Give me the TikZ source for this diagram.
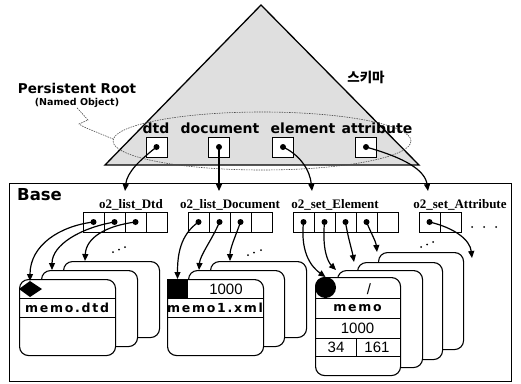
\documentclass[tikz,border=0pt]{standalone}
\usepackage{fontspec}
\setmainfont{Liberation Sans}
\newfontfamily\heavy{DejaVu Sans}
\newfontfamily\spaced[LetterSpace=14]{DejaVu Sans}
\newfontfamily\serifb{Liberation Serif}
\newfontfamily\kor{Noto Sans CJK KR}
\usetikzlibrary{arrows.meta}

\tikzset{
  cell/.style={draw, line width=0.9pt, minimum width=21pt, minimum height=20pt, inner sep=0pt},
  rootbox/.style={draw, line width=1pt, fill=white, minimum width=21pt, minimum height=20pt, inner sep=0pt},
  card/.style={draw, line width=1.1pt, fill=white, rounded corners=9pt, inner sep=0pt, anchor=north west},
  dtdcard/.style={card, minimum width=96pt, minimum height=76pt},
  elcard/.style={card, minimum width=85pt, minimum height=97pt},
  ptr/.style={line width=1.2pt, -{Triangle[length=7pt,width=6pt]}},
  ring/.style={line width=0.6pt, dash pattern=on 1.5pt off 1pt, black!70},
  arrlabel/.style={font=\serifb\bfseries\fontsize{13}{14}\selectfont, inner sep=0pt},
  rootlabel/.style={font=\heavy\bfseries\fontsize{14}{15}\selectfont, inner sep=0pt},
  rec/.style={font=\spaced\bfseries\fontsize{12.5}{13}\selectfont, inner sep=0pt},
  num/.style={font=\fontsize{15}{16}\selectfont, inner sep=0pt},
}

\begin{document}
\begin{tikzpicture}[x=1pt,y=-1pt]
\useasboundingbox (0,0) rectangle (521,383);
% schema triangle
\coordinate (A) at (261,5);
\coordinate (B) at (105,165);
\coordinate (C) at (419,165);
\draw[line width=1.3pt, fill=gray!25] (A) -- (B) -- (C) -- cycle;
\draw[ring] (262,141) ellipse [x radius=149pt, y radius=29pt];
\node[font=\kor\bfseries\fontsize{13.5}{14}\selectfont] (schema) at (366,77) {스키마};
\node[font=\heavy\bfseries\fontsize{13.5}{14}\selectfont, inner sep=0pt] (proot) at (77,88) {Persistent Root};
\node[font=\heavy\bfseries\fontsize{9.5}{10}\selectfont, inner sep=0pt] (nobj) at (77,103) {(Named Object)};
\coordinate (ringl) at (113,139);
\draw[ring] (nobj.south) -- (88,120) -- (79,124) -- (84,127) -- (ringl);

% named roots
\node[rootlabel] (ldtd) at (156,128) {dtd};
\node[rootlabel] (ldoc) at (220,128) {document};
\node[rootlabel] (lelem) at (303,128) {element};
\node[rootlabel] (latt) at (377,128) {attribute};
\node[rootbox] (rdtd) at (156.5,147) {};
\node[rootbox] (rdoc) at (219,147) {};
\node[rootbox] (relem) at (283,147) {};
\node[rootbox] (ratt) at (366,147) {};
\foreach \r in {rdtd,rdoc,relem,ratt}
  \fill (\r.center) circle (3pt);

% base
\node[draw, line width=1.3pt, minimum width=502pt, minimum height=198pt, inner sep=0pt, anchor=north west] (base) at (9,183) {};
\node[font=\heavy\bfseries\fontsize{16.5}{17}\selectfont, inner sep=0pt, anchor=west] (baselbl) at (17,195) {Base};

\coordinate (idtd) at (125,191);
\coordinate (idoc) at (219,191);
\coordinate (ielem) at (312,191);
\coordinate (iatt) at (428,191);
\draw[ptr] (rdtd.center) .. controls (140,160) and (127,172) .. (idtd);
\draw[ptr] (rdoc.center) -- (idoc);
\draw[ptr] (relem.center) .. controls (300,155) and (310,170) .. (ielem);
\draw[ptr] (ratt.center) .. controls (405,158) and (425,170) .. (iatt);

% collections
\node[arrlabel] (ndtd) at (131,205) {o2\_list\_Dtd};
\node[arrlabel] (ndoc) at (230,205) {o2\_list\_Document};
\node[arrlabel] (nelem) at (335,205) {o2\_set\_Element};
\node[arrlabel] (natt) at (460,205) {o2\_set\_Attribute};
\foreach \i in {0,...,3}
  \node[cell] (dtd\i) at (93.5+21*\i,222) {};
\foreach \i in {0,...,3}
  \node[cell] (doc\i) at (198.5+21*\i,222) {};
\foreach \i in {0,...,4}
  \node[cell] (el\i) at (303.5+21*\i,222) {};
\foreach \i in {0,1}
  \node[cell] (att\i) at (429.5+21*\i,222) {};
\foreach \c in {dtd0,dtd1,dtd2,doc0,doc1,doc2,el0,el1,el2,el3,att0}
  \fill (\c.center) circle (3pt);
\foreach \x in {472,484,496}
  \fill (\x,227) circle (1pt);

% dtd objects
\node[dtdcard] (dtdC) at (63,261) {};
\node[dtdcard] (dtdB) at (41,270) {};
\node[dtdcard] (dtdA) at (19,279) {};
\draw[line width=1pt] (19,298) -- (115,298) (19,317) -- (115,317);
\fill (19,289) -- (30,281) -- (42,289) -- (30,297) -- cycle;
\coordinate (dtdkey) at (30,281);
\node[rec] at (67,307.5) {memo.dtd};
\foreach \p in {(113,252),(119,249.5),(125,247)}
  \fill \p circle (1pt);

% document objects
\node[dtdcard] (docC) at (210,261) {};
\node[dtdcard] (docB) at (188,270) {};
\node[dtdcard] (docA) at (167,279) {};
\draw[line width=1pt] (167,298) -- (263,298) (167,317) -- (263,317);
\fill (167,279) rectangle (188,298);
\coordinate (docsq) at (177.5,279);
\node[num] at (226,289) {1000};
\node[rec] at (215,307.5) {memo1.xml};
\foreach \p in {(248,255),(254,252.5),(261,250)}
  \fill \p circle (1pt);

% element objects
\node[elcard] (elD) at (378,252) {};
\node[elcard] (elC) at (357,262) {};
\node[elcard] (elB) at (337,270) {};
\node[elcard, minimum height=98pt] (elA) at (315,277) {};
\draw[line width=1pt] (315,298) -- (400,298) (315,318) -- (400,318)
  (315,338) -- (400,338) (315,356) -- (400,356) (356,338) -- (356,356);
\fill (325.5,287.5) circle (10.5pt);
\coordinate (elkey) at (325.5,277);
\node[num] at (369,289) {/};
\node[rec] at (357.5,308) {memo};
\node[num] at (357.5,328) {1000};
\node[num] at (336,347) {34};
\node[num] at (377,347) {161};
\foreach \p in {(421,247),(427,244.5),(433,242)}
  \fill \p circle (1pt);
\coordinate (attend) at (472,258);

% pointers
\draw[ptr] (dtd0.center) .. controls (60,226) and (30,245) .. (dtdkey);
\draw[ptr] (dtd1.center) .. controls (80,228) and (52,245) .. ([xshift=11pt]dtdB.north west);
\draw[ptr] (dtd2.center) .. controls (105,226) and (86,238) .. ([xshift=22pt]dtdC.north west);
\draw[ptr] (doc0.center) .. controls (180,235) and (177.5,255) .. (docsq);
\draw[ptr] (doc1.center) .. controls (212,240) and (200,255) .. ([xshift=11pt]docB.north west);
\draw[ptr] (doc2.center) .. controls (236,235) and (230,248) .. ([xshift=20pt]docC.north west);
\draw[ptr] (el0.center) .. controls (300,255) and (313,268) .. (elkey);
\draw[ptr] (el1.center) .. controls (322,250) and (328,262) .. ([xshift=-1pt]elB.north west);
\draw[ptr] (el2.center) .. controls (348,238) and (352,250) .. ([xshift=-3pt]elC.north west);
\draw[ptr] (el3.center) .. controls (372,235) and (376,242) .. ([xshift=-1pt]elD.north west);
\draw[ptr] (att0.center) .. controls (455,228) and (470,240) .. (attend);
\end{tikzpicture}
\end{document}
